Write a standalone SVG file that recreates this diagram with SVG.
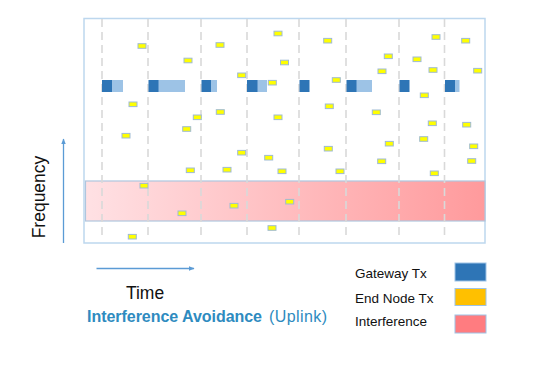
<svg xmlns="http://www.w3.org/2000/svg" width="540" height="366" viewBox="0 0 540 366">
<defs>
<linearGradient id="intf" x1="0" y1="0" x2="1" y2="0">
<stop offset="0" stop-color="#FFE1E4"/>
<stop offset="1" stop-color="#FF9A9C"/>
</linearGradient>
<marker id="arr" viewBox="0 0 10 10" refX="9" refY="5" markerWidth="6" markerHeight="6" orient="auto" markerUnits="userSpaceOnUse">
<path d="M0,1 L10,5 L0,9 z" fill="#5B9BD5"/>
</marker>
<rect id="en" x="-4" y="-2.3" width="8" height="4.6"/>
</defs>
<style>
.txt{font-family:"Liberation Sans",Arial,sans-serif;fill:#111}
.dash{stroke:#D9D9D9;stroke-width:1.6;stroke-dasharray:8 5;fill:none}
.gwd{fill:#2E75B6}
.gwl{fill:#9DC3E6}
.en use{fill:#FFFF00;stroke:#9FBBD3;stroke-width:1}
.axis{stroke:#5B9BD5;stroke-width:1.3;fill:none}
</style>
<rect width="540" height="366" fill="#fff"/>
<g id="frame">
<rect x="84" y="18.5" width="401" height="224.5" fill="#fff" stroke="#BDD7EE" stroke-width="1.5"/>
</g>
<g id="interference-band">
<rect x="85.5" y="181" width="399.5" height="40" fill="url(#intf)" stroke="#AFC6DE" stroke-width="1.2"/>
</g>
<g id="slots">
<line class="dash" x1="102" y1="19" x2="102" y2="240"/>
<line class="dash" x1="148" y1="19" x2="148" y2="240"/>
<line class="dash" x1="201" y1="19" x2="201" y2="240"/>
<line class="dash" x1="247" y1="19" x2="247" y2="240"/>
<line class="dash" x1="299" y1="19" x2="299" y2="240"/>
<line class="dash" x1="346" y1="19" x2="346" y2="240"/>
<line class="dash" x1="399" y1="19" x2="399" y2="240"/>
<line class="dash" x1="444.5" y1="19" x2="444.5" y2="240"/>
</g>
<g id="gateway-tx">
<rect class="gwl" x="111" y="80" width="12" height="12"/><rect class="gwd" x="102" y="80" width="10" height="12"/>
<rect class="gwl" x="158" y="80" width="27" height="12"/><rect class="gwd" x="148.5" y="80" width="10" height="12"/>
<rect class="gwl" x="210" y="80" width="7" height="12"/><rect class="gwd" x="201.5" y="80" width="9.5" height="12"/>
<rect class="gwl" x="257" y="80" width="10" height="12"/><rect class="gwd" x="247" y="80" width="10.5" height="12"/>
<rect class="gwd" x="299.5" y="80" width="10" height="12"/>
<rect class="gwl" x="356" y="80" width="16" height="12"/><rect class="gwd" x="346.5" y="80" width="10" height="12"/>
<rect class="gwd" x="399.5" y="80" width="10" height="12"/>
<rect class="gwl" x="454" y="80" width="5.5" height="12"/><rect class="gwd" x="445" y="80" width="10" height="12"/>
</g>
<g id="end-node-tx" class="en">
<use href="#en" x="142" y="46"/>
<use href="#en" x="188" y="60.5"/>
<use href="#en" x="220" y="45"/>
<use href="#en" x="278" y="33.5"/>
<use href="#en" x="284.5" y="62.5"/>
<use href="#en" x="241.7" y="75.3"/>
<use href="#en" x="272.3" y="82.7"/>
<use href="#en" x="133" y="104.3"/>
<use href="#en" x="197.3" y="117.3"/>
<use href="#en" x="220.3" y="112"/>
<use href="#en" x="278" y="117.3"/>
<use href="#en" x="186.7" y="129"/>
<use href="#en" x="126" y="135.7"/>
<use href="#en" x="327.7" y="40.7"/>
<use href="#en" x="388.3" y="56.3"/>
<use href="#en" x="436" y="37"/>
<use href="#en" x="465.7" y="40.7"/>
<use href="#en" x="417" y="59.3"/>
<use href="#en" x="382" y="71.3"/>
<use href="#en" x="433" y="70"/>
<use href="#en" x="477.7" y="70.7"/>
<use href="#en" x="336.3" y="80"/>
<use href="#en" x="329.3" y="106.3"/>
<use href="#en" x="376.3" y="112.3"/>
<use href="#en" x="424.3" y="95.3"/>
<use href="#en" x="432.3" y="123.3"/>
<use href="#en" x="466.7" y="124.7"/>
<use href="#en" x="423.7" y="139"/>
<use href="#en" x="241.7" y="152.7"/>
<use href="#en" x="268.7" y="157.7"/>
<use href="#en" x="190.3" y="170.3"/>
<use href="#en" x="227" y="169.7"/>
<use href="#en" x="282" y="171.3"/>
<use href="#en" x="144" y="185.7"/>
<use href="#en" x="234" y="205.7"/>
<use href="#en" x="289.7" y="201.7"/>
<use href="#en" x="182" y="213.3"/>
<use href="#en" x="272" y="228"/>
<use href="#en" x="132.3" y="236.7"/>
<use href="#en" x="328.3" y="148.7"/>
<use href="#en" x="389.3" y="143.7"/>
<use href="#en" x="473.7" y="146.3"/>
<use href="#en" x="381.7" y="161.3"/>
<use href="#en" x="471.7" y="161"/>
<use href="#en" x="340" y="171.3"/>
<use href="#en" x="434.3" y="173.3"/>
</g>
<g id="connectors">
<line class="axis" x1="63.5" y1="243" x2="63.5" y2="139" marker-end="url(#arr)"/>
<line class="axis" x1="96.5" y1="268.5" x2="194" y2="268.5" marker-end="url(#arr)"/>
</g>
<g id="axis-labels">
<text class="txt" font-size="17.5" text-anchor="middle" transform="translate(45,197) rotate(-90)">Frequency</text>
<text class="txt" font-size="17.5" x="145" y="299" text-anchor="middle">Time</text>
<text font-family="Liberation Sans,Arial,sans-serif" font-size="16" fill="#2E8BC0" y="321.5"><tspan x="87" font-weight="bold" textLength="175" lengthAdjust="spacing">Interference Avoidance</tspan><tspan x="269" textLength="58" lengthAdjust="spacing">(Uplink)</tspan></text>
</g>
<g id="legend">
<text class="txt" font-size="13.5" x="355" y="277.5">Gateway Tx</text>
<rect x="455" y="263" width="31" height="18" fill="#2E75B6" stroke="#9DC3E6" stroke-width="1"/>
<text class="txt" font-size="13.5" x="355" y="303">End Node Tx</text>
<rect x="455" y="288.5" width="31" height="17" fill="#FFC000" stroke="#9DC3E6" stroke-width="1"/>
<text class="txt" font-size="13.5" x="355" y="326">Interference</text>
<rect x="455" y="315" width="31" height="18" fill="#FF7C80" stroke="#9DC3E6" stroke-width="1"/>
</g>
</svg>
